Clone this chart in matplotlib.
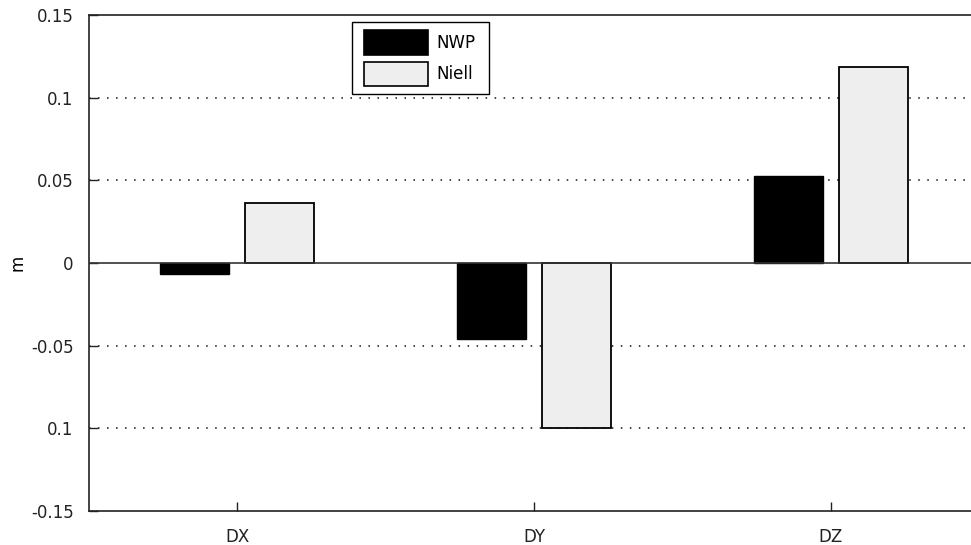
import matplotlib
matplotlib.use('Agg')
import matplotlib.pyplot as plt
from matplotlib.patches import Rectangle
import numpy as np

categories = ['DX', 'DY', 'DZ']
nwp = [-0.0065, -0.046, 0.0525]
niell = [0.036, -0.1, 0.1185]
ytick_values = [0.15, 0.1, 0.05, 0, -0.05, -0.1, -0.15]
ytick_labels = ['0.15', '0.1', '0.05', '0', '-0.05', '0.1', '-0.15']
series_names = ['NWP', 'Niell']
series_colors = ['black', '#eeeeee']

plt.rcParams['font.family'] = 'DejaVu Sans'
plt.rcParams['font.size'] = 12

W, H = 971, 545
fig = plt.figure(figsize=(W / 100, H / 100), dpi=100)
ax = fig.add_axes([89 / W, 1 - 511 / H, 890 / W, 496 / H])

x = np.arange(1, len(categories) + 1)
w = 0.233
off = 0.143
ax.bar(x - off, nwp, w, color=series_colors[0], edgecolor='black', linewidth=1, zorder=3)
ax.bar(x + off, niell, w, color=series_colors[1], edgecolor='black', linewidth=1.3, zorder=3)

# dotted grid, about one dot every 9 px
for v in [0.1, 0.05, -0.05, -0.1]:
    ax.axhline(v, color='#111111', lw=1.1, linestyle=(0, (1, 4.9)), zorder=1)
ax.axhline(0, color='#333333', lw=1.2, zorder=4)

ax.set_xlim(0.5, 3.5)
ax.set_ylim(-0.15, 0.15)
ax.set_xticks(x)
ax.set_xticklabels(categories)
ax.set_yticks(ytick_values)
ax.set_yticklabels(ytick_labels)
ax.tick_params(direction='in', length=6.5, width=1, pad=11, colors='#222222')
ax.tick_params(axis='x', pad=12)

for s in ax.spines.values():
    s.set_linewidth(1.2)
    s.set_color('#222222')
ax.spines['right'].set_visible(False)

fig.text(17.5 / W, 1 - 263 / H, 'm', rotation=90, ha='center', va='center', fontsize=12)

# legend box drawn by hand (pixel layout from the reference)
def px(x0, y0, x1, y1):
    return (x0 / W, 1 - y1 / H), (x1 - x0) / W, (y1 - y0) / H

xy, bw, bh = px(352, 22, 489, 94)
fig.add_artist(Rectangle(xy, bw, bh, transform=fig.transFigure, facecolor='white',
                         edgecolor='black', linewidth=1, zorder=5))
rows = [(30, 55), (62, 86)]
for (y0, y1), name, col in zip(rows, series_names, series_colors):
    xy, bw, bh = px(364, y0, 428, y1)
    fig.add_artist(Rectangle(xy, bw, bh, transform=fig.transFigure, facecolor=col,
                             edgecolor='black', linewidth=1.2, zorder=6))
    fig.text(436 / W, 1 - (y0 + y1) / 2 / H, name, ha='left', va='center',
             fontsize=12, zorder=6)

fig.savefig('out.png', dpi=100)
